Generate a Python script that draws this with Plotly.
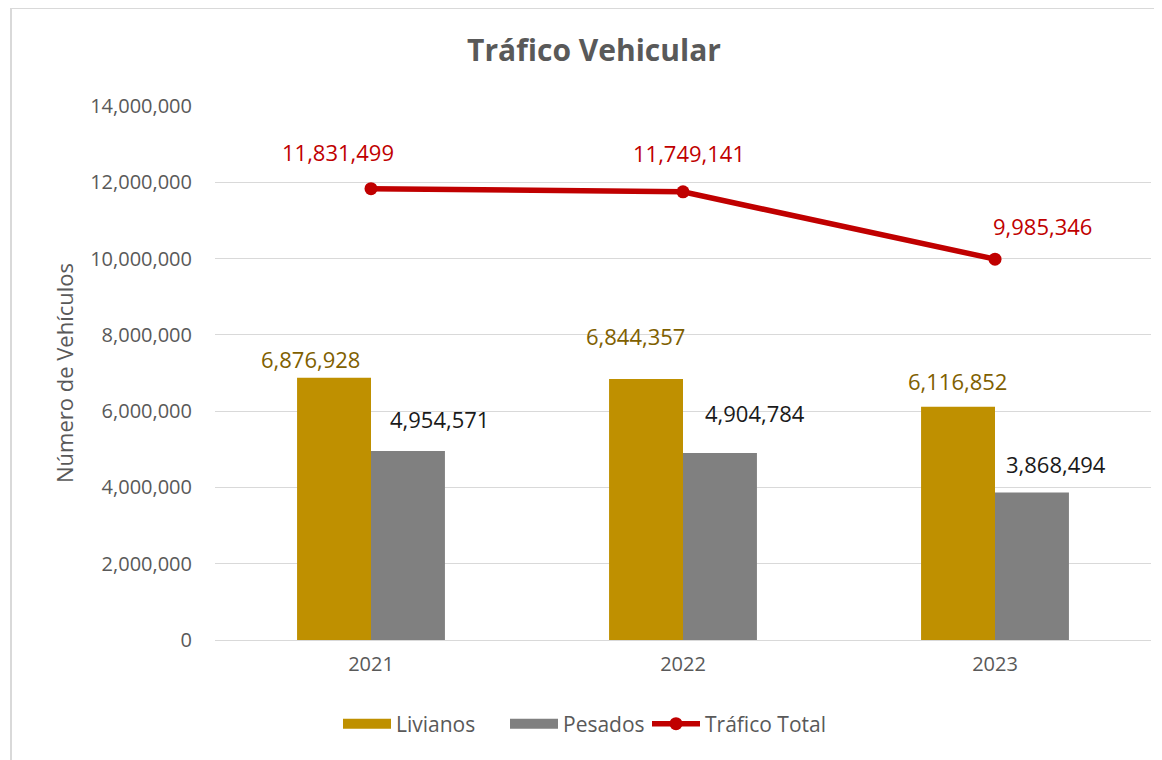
import plotly.graph_objects as go

years = ["2021", "2022", "2023"]
livianos = [6876928, 6844357, 6116852]
pesados = [4954571, 4904784, 3868494]
total = [11831499, 11749141, 9985346]
y_ticks = [0, 2000000, 4000000, 6000000, 8000000, 10000000, 12000000, 14000000]

# label offsets in pixels relative to category centre / value (style only)
liv_shift = [(-61, 19), (-48, 43), (-38, 26)]
pes_shift = [(68, 32), (72, 40), (61, 28)]
tot_shift = [(-33, 37), (6, 39), (47, 33)]

FONT = "Open Sans"
GRAY = "#595959"
GOLD = "#BF9000"
PGRAY = "#808080"
RED = "#C00000"

fig = go.Figure()
fig.add_trace(go.Bar(x=years, y=livianos, name="Livianos", marker_color=GOLD,
                     marker_line_width=0, showlegend=False))
fig.add_trace(go.Bar(x=years, y=pesados, name="Pesados", marker_color=PGRAY,
                     marker_line_width=0, showlegend=False))
fig.add_trace(go.Scatter(x=years, y=total, name="Tráfico Total", mode="lines+markers",
                         line=dict(color=RED, width=5.5),
                         marker=dict(color=RED, size=13), showlegend=False))
# legend entries (wide swatches like the original), one legend each for spacing
fig.add_trace(go.Scatter(x=[None], y=[None], name="Livianos", mode="lines",
                         line=dict(color=GOLD, width=15), legend="legend"))
fig.add_trace(go.Scatter(x=[None], y=[None], name="Pesados", mode="lines",
                         line=dict(color=PGRAY, width=15), legend="legend2"))
fig.add_trace(go.Scatter(x=[None], y=[None], name="Tráfico Total", mode="lines+markers",
                         line=dict(color=RED, width=5.5), marker=dict(color=RED, size=13),
                         legend="legend3"))

def fmt(v):
    return f"{v:,}"

anns = []
for i, yr in enumerate(years):
    anns.append(dict(x=i, y=livianos[i], text=fmt(livianos[i]), showarrow=False,
                     xshift=liv_shift[i][0], yshift=liv_shift[i][1],
                     font=dict(family=FONT, size=22, color="#7F6000")))
    anns.append(dict(x=i, y=pesados[i], text=fmt(pesados[i]), showarrow=False,
                     xshift=pes_shift[i][0], yshift=pes_shift[i][1],
                     font=dict(family=FONT, size=22, color="#1a1a1a")))
    anns.append(dict(x=i, y=total[i], text=fmt(total[i]), showarrow=False,
                     xshift=tot_shift[i][0], yshift=tot_shift[i][1],
                     font=dict(family=FONT, size=22, color=RED)))

# the page adds an 8px body margin, so the figure sits at (8, 8)
OFF = 8
W, H = 1162 - OFF, 760 - OFF
L, R, T, B = 215 - OFF, 11, 106 - OFF, 120
pw, ph = W - L - R, H - T - B

def px(x):
    return (x - OFF - L) / pw

def py(y):
    return (H - B - (y - OFF)) / ph

def leg(x_left):
    return dict(orientation="h", x=px(x_left), xanchor="left", y=py(724), yanchor="middle",
                font=dict(family=FONT, size=21, color=GRAY), itemwidth=48,
                bgcolor="rgba(0,0,0,0)")

fig.update_layout(
    width=W, height=H,
    margin=dict(l=L, r=R, t=T, b=B, autoexpand=False),
    paper_bgcolor="white", plot_bgcolor="white",
    barmode="group", bargap=0.526, bargroupgap=0,
    title=dict(text="<b>Tráfico Vehicular</b>", xref="container", x=(594 - OFF) / W,
               xanchor="center", yref="container", y=1 - (50 - OFF) / H, yanchor="middle",
               font=dict(family=FONT, size=30, color=GRAY)),
    font=dict(family=FONT, color=GRAY),
    xaxis=dict(type="category", range=[-0.5, 2.5], autorange=False,
               showgrid=False, showline=False, ticks="outside", ticklen=6,
               tickcolor="rgba(0,0,0,0)",
               tickfont=dict(family=FONT, size=20, color=GRAY)),
    yaxis=dict(range=[0, 14000000], autorange=False, tickvals=y_ticks, tickformat=",d",
               showgrid=True, gridcolor="#D9D9D9", gridwidth=1.3,
               zeroline=True, zerolinecolor="#D9D9D9", zerolinewidth=1.3,
               ticks="outside", ticklen=18, tickcolor="rgba(0,0,0,0)",
               tickfont=dict(family=FONT, size=20, color=GRAY),
               title=dict(text="Número de Vehículos", standoff=10,
                          font=dict(family=FONT, size=22, color=GRAY))),
    legend=leg(338),
    legend2=leg(505),
    legend3=leg(647),
    annotations=anns,
    shapes=[dict(type="rect", xref="paper", yref="paper",
                 x0=px(11), x1=px(1180), y0=py(780), y1=py(8),
                 line=dict(color="#D9D9D9", width=2), fillcolor="rgba(0,0,0,0)",
                 layer="below")],
)

fig.write_html("out.html")
